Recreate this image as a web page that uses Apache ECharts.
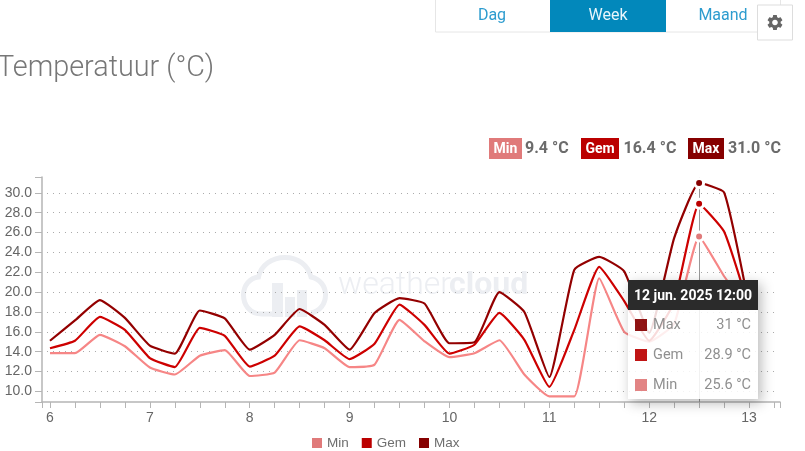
<!DOCTYPE html>
<html><head><meta charset="utf-8">
<style>html,body{margin:0;padding:0;background:#fff;overflow:hidden}#c{width:805px;height:451px}</style>
<script src="https://cdn.jsdelivr.net/npm/echarts@6/dist/echarts.min.js"></script>
</head><body><div id="c"></div>
<script>
const days = [6,6.25,6.5,6.75,7,7.25,7.5,7.75,8,8.25,8.5,8.75,9,9.25,9.5,9.75,10,10.25,10.5,10.75,11,11.25,11.5,11.75,12,12.25,12.5,12.75,13];
const minValues = [13.85,13.85,15.7,14.55,12.4,11.7,13.6,14.15,11.55,11.9,15.15,14.35,12.45,12.7,17.2,15.05,13.45,13.85,15.15,11.7,9.5,9.5,21.4,16.0,15.0,16.8,25.6,21.6,18.2];
const gemValues = [14.35,15.1,17.5,16.2,13.35,12.45,16.4,15.6,12.5,13.6,16.55,15.15,13.25,14.8,18.75,16.7,13.8,14.7,17.9,15.2,10.45,16.2,22.55,19.1,15.1,19.0,28.9,26.1,18.4];
const maxValues = [15.1,17.15,19.2,17.4,14.6,13.8,18.15,17.35,14.2,15.7,18.3,16.7,14.2,17.9,19.4,18.85,14.85,14.95,20.0,18.0,11.45,22.25,23.55,22.1,15.9,25.45,31.0,30.05,18.6];
const yTicks = [10,12,14,16,18,20,22,24,26,28,30];
const xLabels = [6,7,8,9,10,11,12,13];
const xTicks = [5.92,...days,13.25,13.31];
const stats = [["Min","9.4 °C"],["Gem","16.4 °C"],["Max","31.0 °C"]];
const tipTitle = "12 jun. 2025 12:00";
const tabs = ["Dag","Week","Maand"];
const title = "Temperatuur (°C)";
const COL = {Min:"#e07a7a",Gem:"#bb0000",Max:"#860000"};
const GEAR = "M19.14 12.94c.04-.3.06-.61.06-.94 0-.32-.02-.64-.07-.94l2.03-1.58c.18-.14.23-.41.12-.61l-1.92-3.32c-.12-.22-.37-.29-.59-.22l-2.39.96c-.5-.38-1.03-.7-1.62-.94l-.36-2.54c-.04-.24-.24-.41-.48-.41h-3.84c-.24 0-.43.17-.47.41l-.36 2.54c-.59.24-1.13.57-1.62.94l-2.39-.96c-.22-.08-.47 0-.59.22L2.74 8.87c-.12.21-.08.47.12.61l2.03 1.58c-.05.3-.09.63-.09.94s.02.64.07.94l-2.03 1.58c-.18.14-.23.41-.12.61l1.92 3.32c.12.22.37.29.59.22l2.39-.96c.5.38 1.03.7 1.62.94l.36 2.54c.05.24.24.41.48.41h3.84c.24 0 .44-.17.47-.41l.36-2.54c.59-.24 1.13-.56 1.62-.94l2.39.96c.22.08.47 0 .59-.22l1.92-3.32c.12-.22.07-.47-.12-.61l-2.01-1.58zM12 15.6c-1.98 0-3.6-1.62-3.6-3.6s1.62-3.6 3.6-3.6 3.6 1.62 3.6 3.6-1.62 3.6-3.6 3.6z";
const CLOUD = 'M272 314 H262 C249 314 243.5 304 243.5 295 C243.5 285 250 278 258.5 277 C261 265 272 257.5 285 257.5 C298 257.5 308 265 311 277 C320 279 325.5 286 325.5 295 C325.5 304 320 311 311 313';
echarts.graphic.registerShape('gearIcon',echarts.graphic.extendPath(GEAR,{}));
echarts.graphic.registerShape('cloudIcon',echarts.graphic.extendPath(CLOUD,{}));

function zip(vals){return days.map((d,i)=>[d,vals[i]]);}
function ser(name,vals,withGrid){
  const s={name,type:'line',data:zip(vals),smooth:0.14,showSymbol:false,symbol:'circle',symbolSize:9,
    lineStyle:{color:COL[name],width:2.2},itemStyle:{color:COL[name],borderColor:'#fff',borderWidth:3},
    emphasis:{scale:false,itemStyle:{color:COL[name],borderColor:'#fff',borderWidth:3},lineStyle:{width:2.2}},z:3};
  if(withGrid){s.markLine={silent:true,symbol:'none',animation:false,z:1,label:{show:false},
    lineStyle:{color:'#aaa',type:[1,5],width:1},emphasis:{disabled:true},
    data:yTicks.map(v=>[{coord:[5.97,v]},{coord:[13.29,v]}])};}
  return s;
}
const gfx=[];
gfx.push({type:'text',z:1,style:{x:-3,y:69,text:title,verticalAlign:'middle',font:'300 28.8px Roboto',fill:'#777'}});
gfx.push({type:'rect',z:1,shape:{x:435.5,y:-2,width:345,height:34},style:{fill:'#fff',stroke:'#e6e6e6'}});
gfx.push({type:'rect',z:2,shape:{x:550,y:-2,width:116,height:34},style:{fill:'#0288bb'}});
[[492,tabs[0],'#2d9ccf'],[608,tabs[1],'#e8f6fc'],[723,tabs[2],'#2d9ccf']].forEach(t=>{
  gfx.push({type:'text',z:3,style:{x:t[0],y:16,text:t[1],align:'center',verticalAlign:'middle',font:'16px Roboto',fill:t[2]}});
});
gfx.push({type:'rect',z:4,shape:{x:757.5,y:5,width:35,height:35},style:{fill:'#fff',stroke:'#ddd'}});
gfx.push({type:'gearIcon',z:5,x:765.5,y:13,scaleX:0.79,scaleY:0.79,style:{fill:'#666'}});
[[489,33,525],[581,38,623.5],[688,36,728]].forEach((p,i)=>{
  const n=stats[i][0];
  gfx.push({type:'rect',z:1,shape:{x:p[0],y:138,width:p[1],height:21},style:{fill:COL[n]}});
  gfx.push({type:'text',z:2,style:{x:p[0]+p[1]/2,y:149.5,text:n,align:'center',verticalAlign:'middle',font:'bold 14px Roboto',fill:'#fff'}});
  gfx.push({type:'text',z:2,style:{x:p[2],y:149,text:stats[i][1],align:'left',verticalAlign:'middle',font:'bold 16px Roboto',fill:'#6b6b6b'}});
});
const WM='#eceef2';
gfx.push({type:'cloudIcon',z:0,style:{fill:null,stroke:WM,lineWidth:5}});
[[272,283,11],[285,297,10],[297,290,10]].forEach(b=>{gfx.push({type:'rect',z:0,shape:{x:b[0],y:b[1],width:b[2],height:317-b[1]},style:{fill:WM}});});
gfx.push({type:'text',z:0,style:{x:338,y:286,text:'weather',verticalAlign:'middle',font:'300 32px Roboto',fill:WM}});
gfx.push({type:'text',z:0,style:{x:449,y:286,text:'cloud',verticalAlign:'middle',font:'bold 32px Roboto',fill:WM}});

const chart=echarts.init(document.getElementById('c'),null,{renderer:'canvas'});
const axisLine={show:true,lineStyle:{color:'#b5b5b5',width:1.5}};
chart.setOption({
  animation:false,
  textStyle:{fontFamily:'Liberation Sans, Arial, sans-serif'},
  grid:{left:42,right:25,top:177,bottom:49,containLabel:false},
  graphic:{elements:gfx},
  legend:{left:305,top:431,itemWidth:12,itemHeight:12,itemGap:11,icon:'rect',data:['Min','Gem','Max'],
    textStyle:{color:'#6e6e6e',fontSize:13.5,padding:[0,0,0,-1]},selectedMode:false},
  xAxis:{type:'value',min:5.92,max:13.31,axisLine,splitLine:{show:false},
    axisTick:{show:true,length:6,customValues:xTicks,lineStyle:{color:'#b5b5b5',width:1}},
    axisLabel:{customValues:xLabels,color:'#666',fontSize:14,margin:9,formatter:v=>String(v)},
    axisPointer:{show:true,type:'line',z:2,label:{show:false},lineStyle:{color:'#999',width:1,type:'solid'}}},
  yAxis:{type:'value',min:8.93,max:31.6,axisLine,splitLine:{show:false},
    axisTick:{show:true,length:7,customValues:[8.93,...yTicks,31.6],lineStyle:{color:'#b5b5b5',width:1}},
    axisLabel:{customValues:yTicks,color:'#666',fontSize:14,margin:10,formatter:v=>v.toFixed(1)}},
  tooltip:{trigger:'axis',alwaysShowContent:true,position:[628,280],padding:0,borderWidth:0,
    backgroundColor:'rgba(255,255,255,0.86)',transitionDuration:0,
    extraCssText:'box-shadow:3px 4px 12px rgba(0,0,0,.28);border-radius:0;width:130px;',
    formatter:function(ps){
      const order=['Max','Gem','Min'];
      const rows=order.map(n=>{const p=ps.find(q=>q.seriesName===n);
        return '<div style="position:relative;height:30px;line-height:30px;font-size:14.5px;color:#909090">'+
        '<span style="position:absolute;left:7px;top:9px;width:12px;height:12px;background:'+COL[n]+';opacity:.92"></span>'+
        '<span style="position:absolute;left:25px">'+n+'</span><span style="position:absolute;right:7px">'+p.value[1]+' °C</span></div>';}).join('');
      return '<div style="font-family:Roboto;width:130px"><div style="background:#2b2b2b;color:#fff;height:30px;line-height:30px;font-weight:bold;font-size:14px;text-align:center">'+tipTitle+'</div><div style="height:89px">'+rows+'</div></div>';
    }},
  series:[ser('Min',minValues,true),ser('Gem',gemValues),ser('Max',maxValues)]
});
chart.dispatchAction({type:'showTip',seriesIndex:0,dataIndex:days.indexOf(12.5)});
</script></body></html>
